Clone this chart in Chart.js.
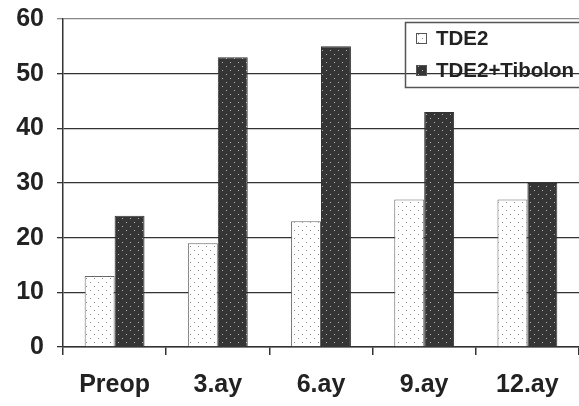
<!DOCTYPE html>
<html>
<head>
<meta charset="utf-8">
<script src="https://cdn.jsdelivr.net/npm/chart.js@4/dist/chart.umd.min.js"></script>
<style>
  html, body { margin: 0; padding: 0; background: #fff; }
  #wrap { width: 579px; height: 406px; }
</style>
</head>
<body>
<div id="wrap"><canvas id="c" width="579" height="406"></canvas></div>
<script>
// data
const categories = ['Preop', '3.ay', '6.ay', '9.ay', '12.ay'];
const seriesNames = ['TDE2', 'TDE2+Tibolon'];
const tde2Values = [13, 19, 23, 27, 27];
const tibolonValues = [24, 53, 55, 43, 30];
const yMax = 60;
const yStep = 10;

const canvas = document.getElementById('c');
const ctx = canvas.getContext('2d');

// dotted fill like the old excel patterns
function dotPattern(bg, dot) {
  const t = document.createElement('canvas');
  t.width = 8; t.height = 8;
  const tc = t.getContext('2d');
  tc.fillStyle = bg;
  tc.fillRect(0, 0, 8, 8);
  tc.fillStyle = dot;
  tc.fillRect(2, 2, 1, 1);
  tc.fillRect(6, 6, 1, 1);
  return ctx.createPattern(t, 'repeat');
}
const lightFill = dotPattern('#ffffff', '#8a8a8a');
const darkFill = dotPattern('#353535', '#b5b5b5');

const fontFam = "'Liberation Sans', Arial, sans-serif";

// legend drawn inside the plot, top right, like the original
const boxLegend = {
  id: 'boxLegend',
  afterDraw(chart) {
    const c = chart.ctx;
    c.save();
    c.strokeStyle = '#555';
    c.lineWidth = 1.5;
    c.strokeRect(405.5, 22.5, 180, 65);
    c.font = 'bold 20.5px ' + fontFam;
    c.textBaseline = 'middle';
    chart.data.datasets.forEach((ds, i) => {
      const y = 38 + i * 32;
      c.fillStyle = ds.backgroundColor;
      c.fillRect(416, y - 5, 11, 11);
      c.strokeStyle = '#555';
      c.lineWidth = 1;
      c.strokeRect(416.5, y - 4.5, 10, 10);
      c.fillStyle = '#222';
      c.fillText(ds.label, 436, y + 1);
    });
    c.restore();
  }
};

new Chart(canvas, {
  type: 'bar',
  data: {
    labels: categories,
    datasets: [
      { label: seriesNames[0], data: tde2Values, backgroundColor: lightFill, borderColor: '#666', borderWidth: 1 },
      { label: seriesNames[1], data: tibolonValues, backgroundColor: darkFill, borderColor: '#333', borderWidth: 1 }
    ]
  },
  options: {
    responsive: false,
    animation: false,
    layout: { padding: { top: 19, right: -1, left: 0, bottom: 0 } },
    datasets: { bar: { categoryPercentage: 0.58, barPercentage: 1.0 } },
    plugins: { legend: { display: false }, tooltip: { enabled: false } },
    scales: {
      x: {
        grid: { drawOnChartArea: false, drawTicks: true, tickLength: 8, color: '#333', lineWidth: 1.5 },
        border: { color: '#333', width: 1.5 },
        ticks: { color: '#222', font: { family: fontFam, size: 25, weight: 'bold' }, padding: 15 },
        afterFit(scale) { scale.height = 59; }
      },
      y: {
        min: 0, max: yMax,
        grid: {
          color: (c) => c.tick && c.tick.value === yMax ? '#888' : '#333',
          lineWidth: 1.3, tickLength: 6
        },
        border: { color: '#333', width: 1.5 },
        ticks: { stepSize: yStep, color: '#222', font: { family: fontFam, size: 25, weight: 'bold' }, padding: 13 },
        afterFit(scale) { scale.width = 63; scale.paddingTop = 0; scale.paddingBottom = 0; }
      }
    }
  },
  plugins: [boxLegend]
});
</script>
</body>
</html>
